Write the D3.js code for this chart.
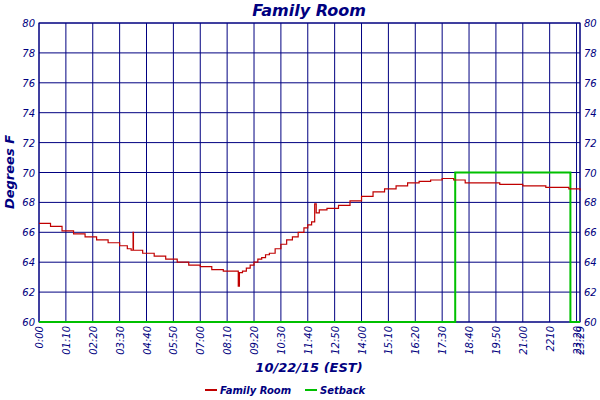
<!DOCTYPE html>
<html><head><meta charset="utf-8">
<script src="https://d3js.org/d3.v7.min.js"></script>
<style>body{margin:0;background:#fff}text{font-family:"DejaVu Sans",sans-serif;font-style:italic;fill:#000080}</style>
</head><body><svg width="600" height="400"></svg>
<script>
// minutes since midnight / degrees F
const roomTimes = [0,30,60,90,120,150,180,210,230,240,245,246,270,300,330,360,390,420,450,480,515,519,522,530,540,550,560,570,580,590,600,615,630,645,660,675,690,700,710,718,722,730,750,780,810,840,870,900,930,960,990,1020,1050,1080,1110,1140,1200,1260,1320,1380,1409];
const roomTemps = [66.6,66.4,66.1,65.9,65.7,65.5,65.3,65.1,64.9,64.8,66.0,64.8,64.6,64.4,64.2,64.0,63.8,63.7,63.5,63.4,63.4,62.4,63.3,63.4,63.6,63.8,64.0,64.2,64.3,64.5,64.6,64.9,65.2,65.5,65.7,66.0,66.3,66.5,66.7,67.9,67.3,67.5,67.6,67.8,68.1,68.4,68.7,68.9,69.1,69.3,69.4,69.5,69.6,69.5,69.3,69.3,69.2,69.1,69.0,68.9,68.8];
const setbackTimes = [0,1084,1084,1384,1384,1409];
const setbackTemps = [60,60,70,70,60,60];
const xTicks = [0,70,140,210,280,350,420,490,560,630,700,770,840,910,980,1050,1120,1190,1260,1330,1400,1409];
const xLabels = ["0:00","01:10","02:20","03:30","04:40","05:50","07:00","08:10","09:20","10:30","11:40","12:50","14:00","15:10","16:20","17:30","18:40","19:50","21:00","2210","23:20","23:29"];
const yTicks = [60,62,64,66,68,70,72,74,76,78,80];

const svg = d3.select("svg");
const L = 39, R = 580, T = 23, B = 322;
const x = d3.scaleLinear().domain([0,1409]).range([L,R]);
const y = d3.scaleLinear().domain([60,80]).range([B,T]);

// grid
svg.append("g").selectAll("line").data(xTicks).join("line")
  .attr("x1",d=>x(d)).attr("x2",d=>x(d)).attr("y1",T).attr("y2",B)
  .attr("stroke","#000080").attr("stroke-width",1);
svg.append("g").selectAll("line").data(yTicks).join("line")
  .attr("x1",L).attr("x2",R).attr("y1",d=>y(d)).attr("y2",d=>y(d))
  .attr("stroke","#000080").attr("stroke-width",1);
svg.append("rect").attr("x",L).attr("y",T).attr("width",R-L).attr("height",B-T)
  .attr("fill","none").attr("stroke","#000080");

// y labels both sides
const yl = svg.append("g").attr("font-size",10);
yl.selectAll(".l").data(yTicks).join("text").attr("x",L-4).attr("y",d=>y(d)+4)
  .attr("text-anchor","end").text(d=>d);
yl.selectAll(".r").data(yTicks).join("text").attr("x",R+4).attr("y",d=>y(d)+4)
  .attr("text-anchor","start").text(d=>d);

// x labels rotated
svg.append("g").selectAll("text").data(xTicks).join("text")
  .attr("font-size",10).attr("text-anchor","end")
  .attr("transform",d=>`translate(${x(d)+4},${B+4}) rotate(-90)`)
  .text((d,i)=>xLabels[i]);

// series
const line = d3.line().x(d=>x(d[0])).y(d=>y(d[1])).curve(d3.curveStepAfter);
svg.append("path").datum(setbackTimes.map((t,i)=>[t,setbackTemps[i]]))
  .attr("d",d3.line().x(d=>x(d[0])).y(d=>y(d[1])))
  .attr("fill","none").attr("stroke","#00c000").attr("stroke-width",2);
svg.append("path").datum(roomTimes.map((t,i)=>[t,roomTemps[i]]))
  .attr("d",line).attr("fill","none").attr("stroke","#c00000").attr("stroke-width",1.2);

// titles
svg.append("text").attr("x",309).attr("y",16).attr("text-anchor","middle")
  .attr("font-family","DejaVu Serif").attr("font-weight","bold").attr("font-size",16).text("Family Room");
svg.append("text").attr("transform","translate(14,172) rotate(-90)").attr("text-anchor","middle")
  .attr("font-family","DejaVu Serif").attr("font-weight","bold").attr("font-size",13).text("Degrees F");
svg.append("text").attr("x",309).attr("y",372).attr("text-anchor","middle")
  .attr("font-family","DejaVu Serif").attr("font-weight","bold").attr("font-size",13).text("10/22/15 (EST)");

// legend
const lg = svg.append("g").attr("font-size",10).attr("font-weight","bold");
[["Family Room","#c00000",205],["Setback","#00c000",305]].forEach(([t,c,lx])=>{
  lg.append("line").attr("x1",lx).attr("x2",lx+12).attr("y1",390).attr("y2",390).attr("stroke",c).attr("stroke-width",2);
  lg.append("text").attr("x",lx+15).attr("y",394).attr("font-family","DejaVu Serif").text(t);
});
</script></body></html>
